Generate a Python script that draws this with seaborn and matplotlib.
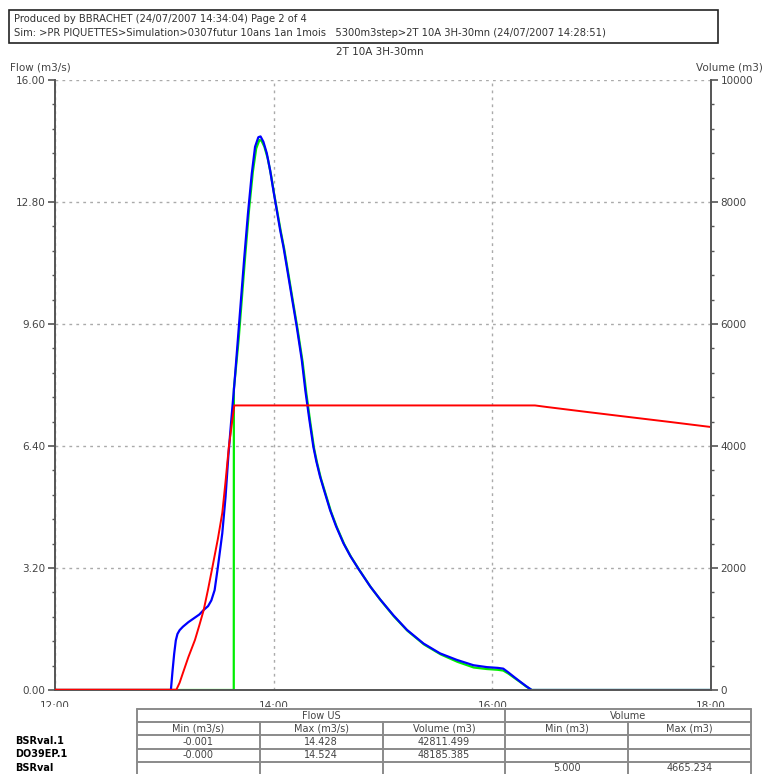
import numpy as np
import pandas as pd
import matplotlib
matplotlib.use("Agg")
import matplotlib.pyplot as plt
import seaborn as sns
from matplotlib.ticker import MultipleLocator, FuncFormatter
from matplotlib.patches import Rectangle

# ---- data (time in decimal hours) ----
blue_t = [12.00, 13.06, 13.075, 13.09, 13.105, 13.12, 13.14, 13.17, 13.22, 13.27,
          13.32, 13.36, 13.40, 13.43, 13.46, 13.49, 13.53, 13.56, 13.585, 13.61,
          13.64, 13.67, 13.70, 13.73, 13.765, 13.80, 13.83, 13.86, 13.88, 13.906,
          13.937, 13.967, 13.997, 14.028, 14.059, 14.089, 14.12, 14.165, 14.211, 14.257,
          14.29, 14.327, 14.363, 14.39, 14.424, 14.46, 14.516, 14.57, 14.638, 14.70,
          14.775, 14.882, 14.973, 15.095, 15.218, 15.37, 15.522, 15.675, 15.827, 15.95,
          16.05, 16.10, 16.147, 16.20, 16.254, 16.31, 16.36, 18.00]
blue_q = [0.00, 0.00, 0.50, 0.95, 1.30, 1.47, 1.57, 1.66, 1.78, 1.88,
          1.98, 2.10, 2.20, 2.35, 2.62, 3.23, 4.11, 5.07, 6.12, 7.00,
          8.00, 9.10, 10.20, 11.30, 12.50, 13.55, 14.25, 14.50, 14.52, 14.38,
          14.08, 13.64, 13.11, 12.59, 12.07, 11.63, 11.10, 10.32, 9.53, 8.66,
          7.85, 7.08, 6.38, 6.00, 5.60, 5.25, 4.72, 4.30, 3.85, 3.52,
          3.18, 2.72, 2.38, 1.96, 1.58, 1.22, 0.96, 0.79, 0.65, 0.60,
          0.58, 0.56, 0.46, 0.34, 0.22, 0.10, 0.00, 0.00]

green_t = [12.00, 13.635, 13.636, 13.65, 13.68, 13.71, 13.74, 13.775, 13.81, 13.84,
           13.87, 13.89, 13.915, 13.945, 13.975, 14.005, 14.036, 14.067, 14.097, 14.128,
           14.173, 14.219, 14.265, 14.298, 14.335, 14.37, 14.397, 14.432, 14.468, 14.524,
           14.578, 14.646, 14.708, 14.783, 14.89, 14.98, 15.10, 15.225, 15.377, 15.53,
           15.68, 15.83, 15.95, 16.05, 16.10, 16.147, 16.20, 16.254, 16.31, 16.36,
           18.00]
green_q = [0.00, 0.00, 7.90, 8.30, 9.20, 10.30, 11.40, 12.60, 13.60, 14.20,
           14.43, 14.40, 14.25, 13.95, 13.52, 13.00, 12.50, 12.00, 11.56, 11.03,
           10.25, 9.46, 8.60, 7.80, 7.02, 6.33, 5.96, 5.55, 5.21, 4.68,
           4.27, 3.82, 3.49, 3.15, 2.69, 2.35, 1.93, 1.55, 1.19, 0.93,
           0.74, 0.59, 0.55, 0.53, 0.51, 0.43, 0.32, 0.21, 0.09, 0.00,
           0.00]

red_t = [12.00, 13.11, 13.14, 13.17, 13.22, 13.28, 13.32, 13.36, 13.40, 13.44,
         13.49, 13.53, 13.56, 13.59, 13.62, 13.64, 16.39, 16.50, 16.87, 17.17,
         17.63, 18.00]
red_v = [5, 5, 120, 279, 540, 820, 1060, 1311, 1650, 2016,
         2480, 2902, 3420, 3984, 4400, 4665, 4665, 4639, 4557, 4492,
         4393, 4311]

series_names = ["BSRval.1", "DO39EP.1", "BSRval"]
col_groups = ["Flow US", "Volume"]
col_heads = ["Min (m3/s)", "Max (m3/s)", "Volume (m3)", "Min (m3)", "Max (m3)"]
table_vals = [["-0.001", "14.428", "42811.499", "", ""],
              ["-0.000", "14.524", "48185.385", "", ""],
              ["", "", "", "5.000", "4665.234"]]

sns.set_style("white")
plt.rcParams["font.family"] = ["DejaVu Sans"]
plt.rcParams["font.size"] = 7.5

W, H = 765, 774
fig = plt.figure(figsize=(W / 100, H / 100), dpi=100)
ax = fig.add_axes([55 / W, 1 - 690 / H, (711 - 55) / W, (690 - 80) / H])
ax2 = ax.twinx()

green_df = pd.DataFrame({"t": green_t, "q": green_q})
blue_df = pd.DataFrame({"t": blue_t, "q": blue_q})
red_df = pd.DataFrame({"t": red_t, "v": red_v})

sns.lineplot(data=green_df, x="t", y="q", ax=ax, color="#00ee00", lw=1.6,
             estimator=None, sort=False)
sns.lineplot(data=blue_df, x="t", y="q", ax=ax, color="#0000ff", lw=1.6,
             estimator=None, sort=False)
sns.lineplot(data=red_df, x="t", y="v", ax=ax2, color="#ff0000", lw=1.4,
             estimator=None, sort=False)

gray = "#555555"
ax.set_xlim(12, 18)
ax.set_ylim(0, 16)
ax2.set_ylim(0, 10000)
ax.set_xlabel("")
ax.set_ylabel("")
ax2.set_ylabel("")

ax.xaxis.set_major_locator(MultipleLocator(2))
ax.xaxis.set_minor_locator(MultipleLocator(1))
ax.xaxis.set_major_formatter(FuncFormatter(lambda v, p: f"{int(round(v)):02d}:00"))
ax.yaxis.set_major_locator(MultipleLocator(3.2))
ax.yaxis.set_minor_locator(MultipleLocator(0.64))
ax.yaxis.set_major_formatter(FuncFormatter(lambda v, p: f"{v:.2f}"))
ax2.yaxis.set_major_locator(MultipleLocator(2000))
ax2.yaxis.set_minor_locator(MultipleLocator(400))

for a in (ax, ax2):
    a.tick_params(which="major", direction="out", length=5, width=1.2,
                  color=gray, labelcolor="#444444", labelsize=7.5, pad=2)
    a.tick_params(which="minor", direction="out", length=2.5, width=1.0, color=gray)
    for s in a.spines.values():
        s.set_color(gray)
        s.set_linewidth(1.4)
    a.spines["top"].set_visible(False)
ax.tick_params(axis="x", which="major", length=4, pad=4)
ax.tick_params(axis="x", which="minor", length=4)
ax.spines["right"].set_visible(False)
ax2.spines["left"].set_visible(False)
ax2.spines["bottom"].set_visible(False)

ax.grid(True, which="major", axis="both", color="#aaaaaa", linestyle=(0, (2, 3)), lw=1.0)
ax.set_axisbelow(True)

# header block
fig.patches.append(Rectangle((9 / W, 1 - 43 / H), (718 - 9) / W, 33 / H,
                             transform=fig.transFigure, fill=False,
                             edgecolor="#222222", lw=1.2))
fig.text(14 / W, 1 - 19 / H, "Produced by BBRACHET (24/07/2007 14:34:04) Page 2 of 4",
         va="center", ha="left", fontsize=7.2, color="#333333")
fig.text(14 / W, 1 - 33 / H,
         "Sim: >PR PIQUETTES>Simulation>0307futur 10ans 1an 1mois   5300m3step>2T 10A 3H-30mn (24/07/2007 14:28:51)",
         va="center", ha="left", fontsize=7.2, color="#333333")
fig.text(380 / W, 1 - 52 / H, "2T 10A 3H-30mn", ha="center", va="center",
         fontsize=7.5, color="#333333")
fig.text(10 / W, 1 - 67 / H, "Flow (m3/s)", ha="left", va="center",
         fontsize=7.5, color="#444444")
fig.text(763 / W, 1 - 67 / H, "Volume (m3)", ha="right", va="center",
         fontsize=7.5, color="#444444")

# white strip that cuts the time labels, as in the reference
fig.patches.append(Rectangle((0, 0), 1, 1 - 707 / H, transform=fig.transFigure,
                             facecolor="white", edgecolor="none", zorder=5))

# statistics table
tax = fig.add_axes([137 / W, 1 - 775 / H, (751 - 137) / W, (775 - 709) / H])
tax.set_zorder(10)
tax.set_xlim(0, 5)
tax.set_ylim(5, 0)
tax.axis("off")
lc = "#8a8a8a"
for r in range(6):
    tax.plot([0, 5], [r, r], color=lc, lw=1.4, clip_on=False)
for c in range(6):
    y0 = 0 if c in (0, 3, 5) else 1
    tax.plot([c, c], [y0, 5], color=lc, lw=1.4, clip_on=False)
tax.text(1.5, 0.5, col_groups[0], ha="center", va="center", fontsize=7, color="#444444")
tax.text(4.0, 0.5, col_groups[1], ha="center", va="center", fontsize=7, color="#444444")
for c, h in enumerate(col_heads):
    tax.text(c + 0.5, 1.5, h, ha="center", va="center", fontsize=7, color="#444444")
for r, row in enumerate(table_vals):
    for c, v in enumerate(row):
        tax.text(c + 0.5, r + 2.5, v, ha="center", va="center", fontsize=7, color="#444444")

for i, name in enumerate(series_names):
    t = fig.text(15 / W, 1 - (741 + 13.3 * i) / H, name, ha="left", va="center",
                 fontsize=7, fontweight="bold", color="black")
    t.set_zorder(11)

fig.savefig("out.png", dpi=100)
